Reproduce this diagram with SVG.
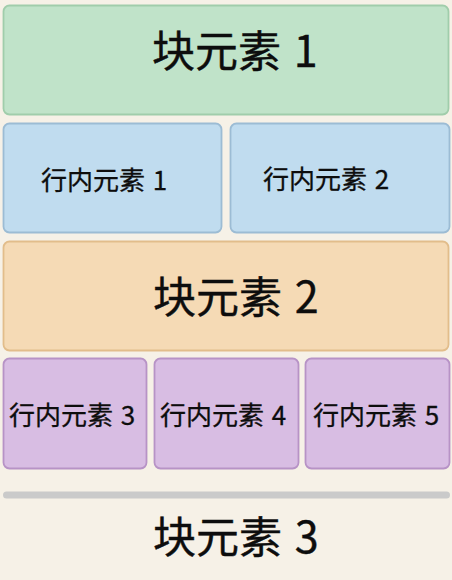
<svg xmlns="http://www.w3.org/2000/svg" width="452" height="580" viewBox="0 0 452 580">
<style>
.box{stroke-width:1.8}
.green{fill:#c0e3c9;stroke:#a0cdab}
.blue{fill:#c0dcef;stroke:#9cbcd4}
.orange{fill:#f5dab5;stroke:#e2bd8b}
.purple{fill:#d8bde3;stroke:#b793c6}
.big{font-family:"Noto Sans CJK SC","Noto Sans",sans-serif;font-size:43px;fill:#0d0d0d;word-spacing:3px;stroke:#0d0d0d;stroke-width:0.4px}
.small{font-family:"Noto Sans CJK SC","Noto Sans",sans-serif;font-size:26px;fill:#0d0d0d;word-spacing:2px;stroke:#0d0d0d;stroke-width:0.3px}
</style>
<rect width="452" height="580" fill="#f6f1e7"/>
<g id="block1">
<rect class="box green" x="3.5" y="5.5" width="445" height="109" rx="6"/>
<text class="big" x="152" y="67">块元素 1</text>
</g>
<g id="inline1">
<rect class="box blue" x="3.5" y="123.5" width="218" height="109" rx="6"/>
<text class="small" x="41" y="190">行内元素 1</text>
</g>
<g id="inline2">
<rect class="box blue" x="230.5" y="123.5" width="219" height="109" rx="6"/>
<text class="small" x="263" y="189">行内元素 2</text>
</g>
<g id="block2">
<rect class="box orange" x="3.5" y="241.5" width="445" height="109" rx="6"/>
<text class="big" x="153" y="313">块元素 2</text>
</g>
<g id="inline3">
<rect class="box purple" x="3.5" y="358.5" width="143" height="110" rx="6"/>
<text class="small" x="9" y="425">行内元素 3</text>
</g>
<g id="inline4">
<rect class="box purple" x="154.5" y="358.5" width="144" height="110" rx="6"/>
<text class="small" x="160" y="425">行内元素 4</text>
</g>
<g id="inline5">
<rect class="box purple" x="305.5" y="358.5" width="144" height="110" rx="6"/>
<text class="small" x="313" y="425">行内元素 5</text>
</g>
<g id="divider">
<rect x="3" y="491.5" width="447" height="7" rx="3.5" fill="#cacaca"/>
</g>
<g id="block3">
<text class="big" x="153" y="553">块元素 3</text>
</g>
<g id="connectors"></g>
</svg>
